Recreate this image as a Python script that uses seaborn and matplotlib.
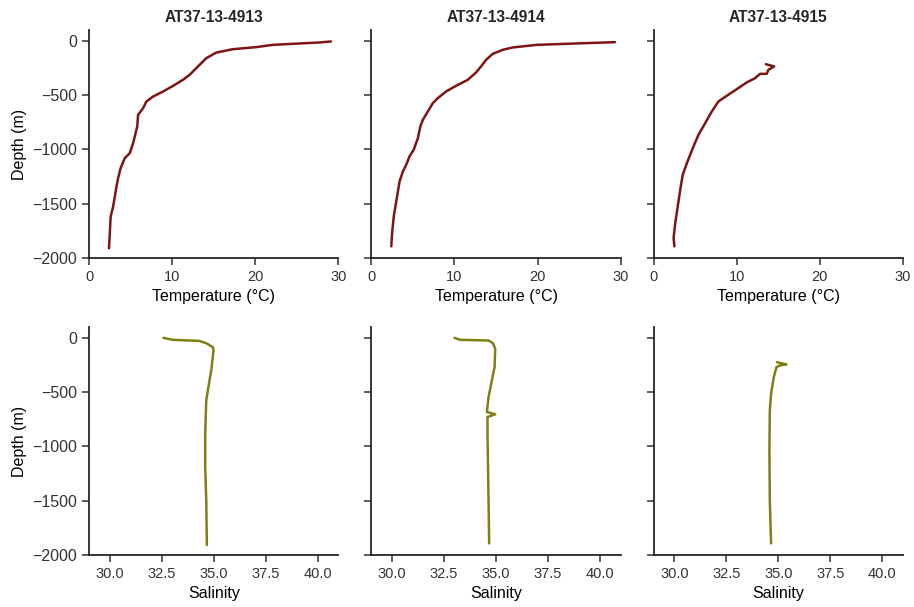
import matplotlib
matplotlib.use("Agg")
import matplotlib.pyplot as plt
import seaborn as sns
import pandas as pd

# CTD casts
stations = ["AT37-13-4913", "AT37-13-4914", "AT37-13-4915"]

# Temperature profiles (depth in m, temperature in °C)
depth_t_4913 = [-6, -15, -37, -58, -77, -108, -160, -221, -313, -359, -415, -467, -513, -559,
                -621, -682, -790, -943, -1035, -1081, -1173, -1265, -1343, -1527, -1619, -1773, -1911]
temp_4913 = [29.1, 27.7, 22.1, 20.1, 17.3, 15.3, 14.1, 13.3, 12.1, 11.3, 10.1, 8.9, 7.7, 6.9,
             6.5, 5.9, 5.8, 5.3, 4.9, 4.3, 3.8, 3.5, 3.3, 2.9, 2.6, 2.5, 2.4]

depth_t_4914 = [-12, -25, -37, -61, -83, -120, -175, -236, -291, -359, -414, -466, -528, -574,
                -650, -727, -788, -896, -1003, -1064, -1141, -1202, -1294, -1433, -1617, -1770, -1893]
temp_4914 = [29.3, 24.3, 19.9, 17.0, 15.8, 14.6, 13.8, 13.2, 12.6, 11.6, 10.2, 9.0, 8.0, 7.4,
             6.8, 6.2, 5.9, 5.6, 5.1, 4.6, 4.2, 3.8, 3.4, 3.1, 2.7, 2.5, 2.4]

depth_t_4915 = [-215, -236, -267, -304, -304, -344, -383, -445, -506, -558, -650, -758, -865,
                -972, -1126, -1233, -1371, -1525, -1678, -1816, -1893]
temp_4915 = [13.5, 14.5, 13.8, 13.6, 12.8, 12.2, 11.2, 10.0, 8.8, 7.8, 7.0, 6.2, 5.4,
             4.8, 4.0, 3.5, 3.2, 2.9, 2.6, 2.4, 2.5]

# Salinity profiles (depth in m, practical salinity)
depth_s_4913 = [0, -18, -28, -49, -86, -116, -300, -423, -576, -882, -1188, -1495, -1908]
sal_4913 = [32.58, 33.03, 34.30, 34.64, 34.96, 34.99, 34.88, 34.77, 34.64, 34.59, 34.59, 34.64, 34.67]

depth_s_4914 = [0, -18, -24, -49, -101, -270, -392, -545, -683, -704, -729, -882, -1495, -1893]
sal_4914 = [33.00, 33.28, 34.64, 34.85, 34.96, 34.93, 34.80, 34.64, 34.56, 34.96, 34.59, 34.59, 34.64, 34.67]

depth_s_4915 = [-224, -245, -254, -270, -361, -515, -668, -1035, -1495, -1893]
sal_4915 = [34.94, 35.39, 35.07, 34.91, 34.78, 34.65, 34.59, 34.57, 34.59, 34.65]

temp_profiles = [(temp_4913, depth_t_4913), (temp_4914, depth_t_4914), (temp_4915, depth_t_4915)]
sal_profiles = [(sal_4913, depth_s_4913), (sal_4914, depth_s_4914), (sal_4915, depth_s_4915)]

sns.set_theme(style="ticks")
plt.rcParams["font.family"] = ["Liberation Sans", "DejaVu Sans"]
plt.rcParams["axes.linewidth"] = 1.3
plt.rcParams["xtick.major.width"] = 1.1
plt.rcParams["ytick.major.width"] = 1.1
plt.rcParams["xtick.major.size"] = 5
plt.rcParams["ytick.major.size"] = 5

fig, axes = plt.subplots(2, 3, figsize=(9.14, 6.07), dpi=100, sharey=True)
fig.subplots_adjust(left=0.0974, right=0.988, top=0.9506, bottom=0.0857,
                    wspace=0.132, hspace=0.303)

temp_color = "#7f1414"
sal_color = "#7f7f14"

for i, name in enumerate(stations):
    t, d = temp_profiles[i]
    ax = axes[0, i]
    df = pd.DataFrame({"Temperature": t, "Depth": d})
    sns.lineplot(data=df, x="Temperature", y="Depth", sort=False, estimator=None,
                 color=temp_color, linewidth=1.8, ax=ax)
    ax.set_xlim(0, 30)
    ax.set_xticks([0, 10, 20, 30])
    ax.set_xlabel("Temperature (°C)", fontsize=11.5, color="black")
    ax.set_title(name, fontsize=11.2, fontweight="bold", color="#262626")

    s, d = sal_profiles[i]
    ax = axes[1, i]
    df = pd.DataFrame({"Salinity": s, "Depth": d})
    sns.lineplot(data=df, x="Salinity", y="Depth", sort=False, estimator=None,
                 color=sal_color, linewidth=1.8, ax=ax)
    ax.set_xlim(29, 41)
    ax.set_xticks([30.0, 32.5, 35.0, 37.5, 40.0])
    ax.set_xlabel("Salinity", fontsize=11.5, color="black")

for ax in axes.flat:
    ax.set_ylim(-2000, 100)
    ax.set_yticks([0, -500, -1000, -1500, -2000])
    ax.tick_params(axis="x", labelsize=10.5, colors="#333333")
    ax.tick_params(axis="y", labelsize=11.5, colors="#333333")
    if ax in axes[:, 0]:
        ax.set_ylabel("Depth (m)", fontsize=11.5, color="black")
    else:
        ax.set_ylabel("")

sns.despine(fig=fig)
fig.savefig("out.png", dpi=100)
